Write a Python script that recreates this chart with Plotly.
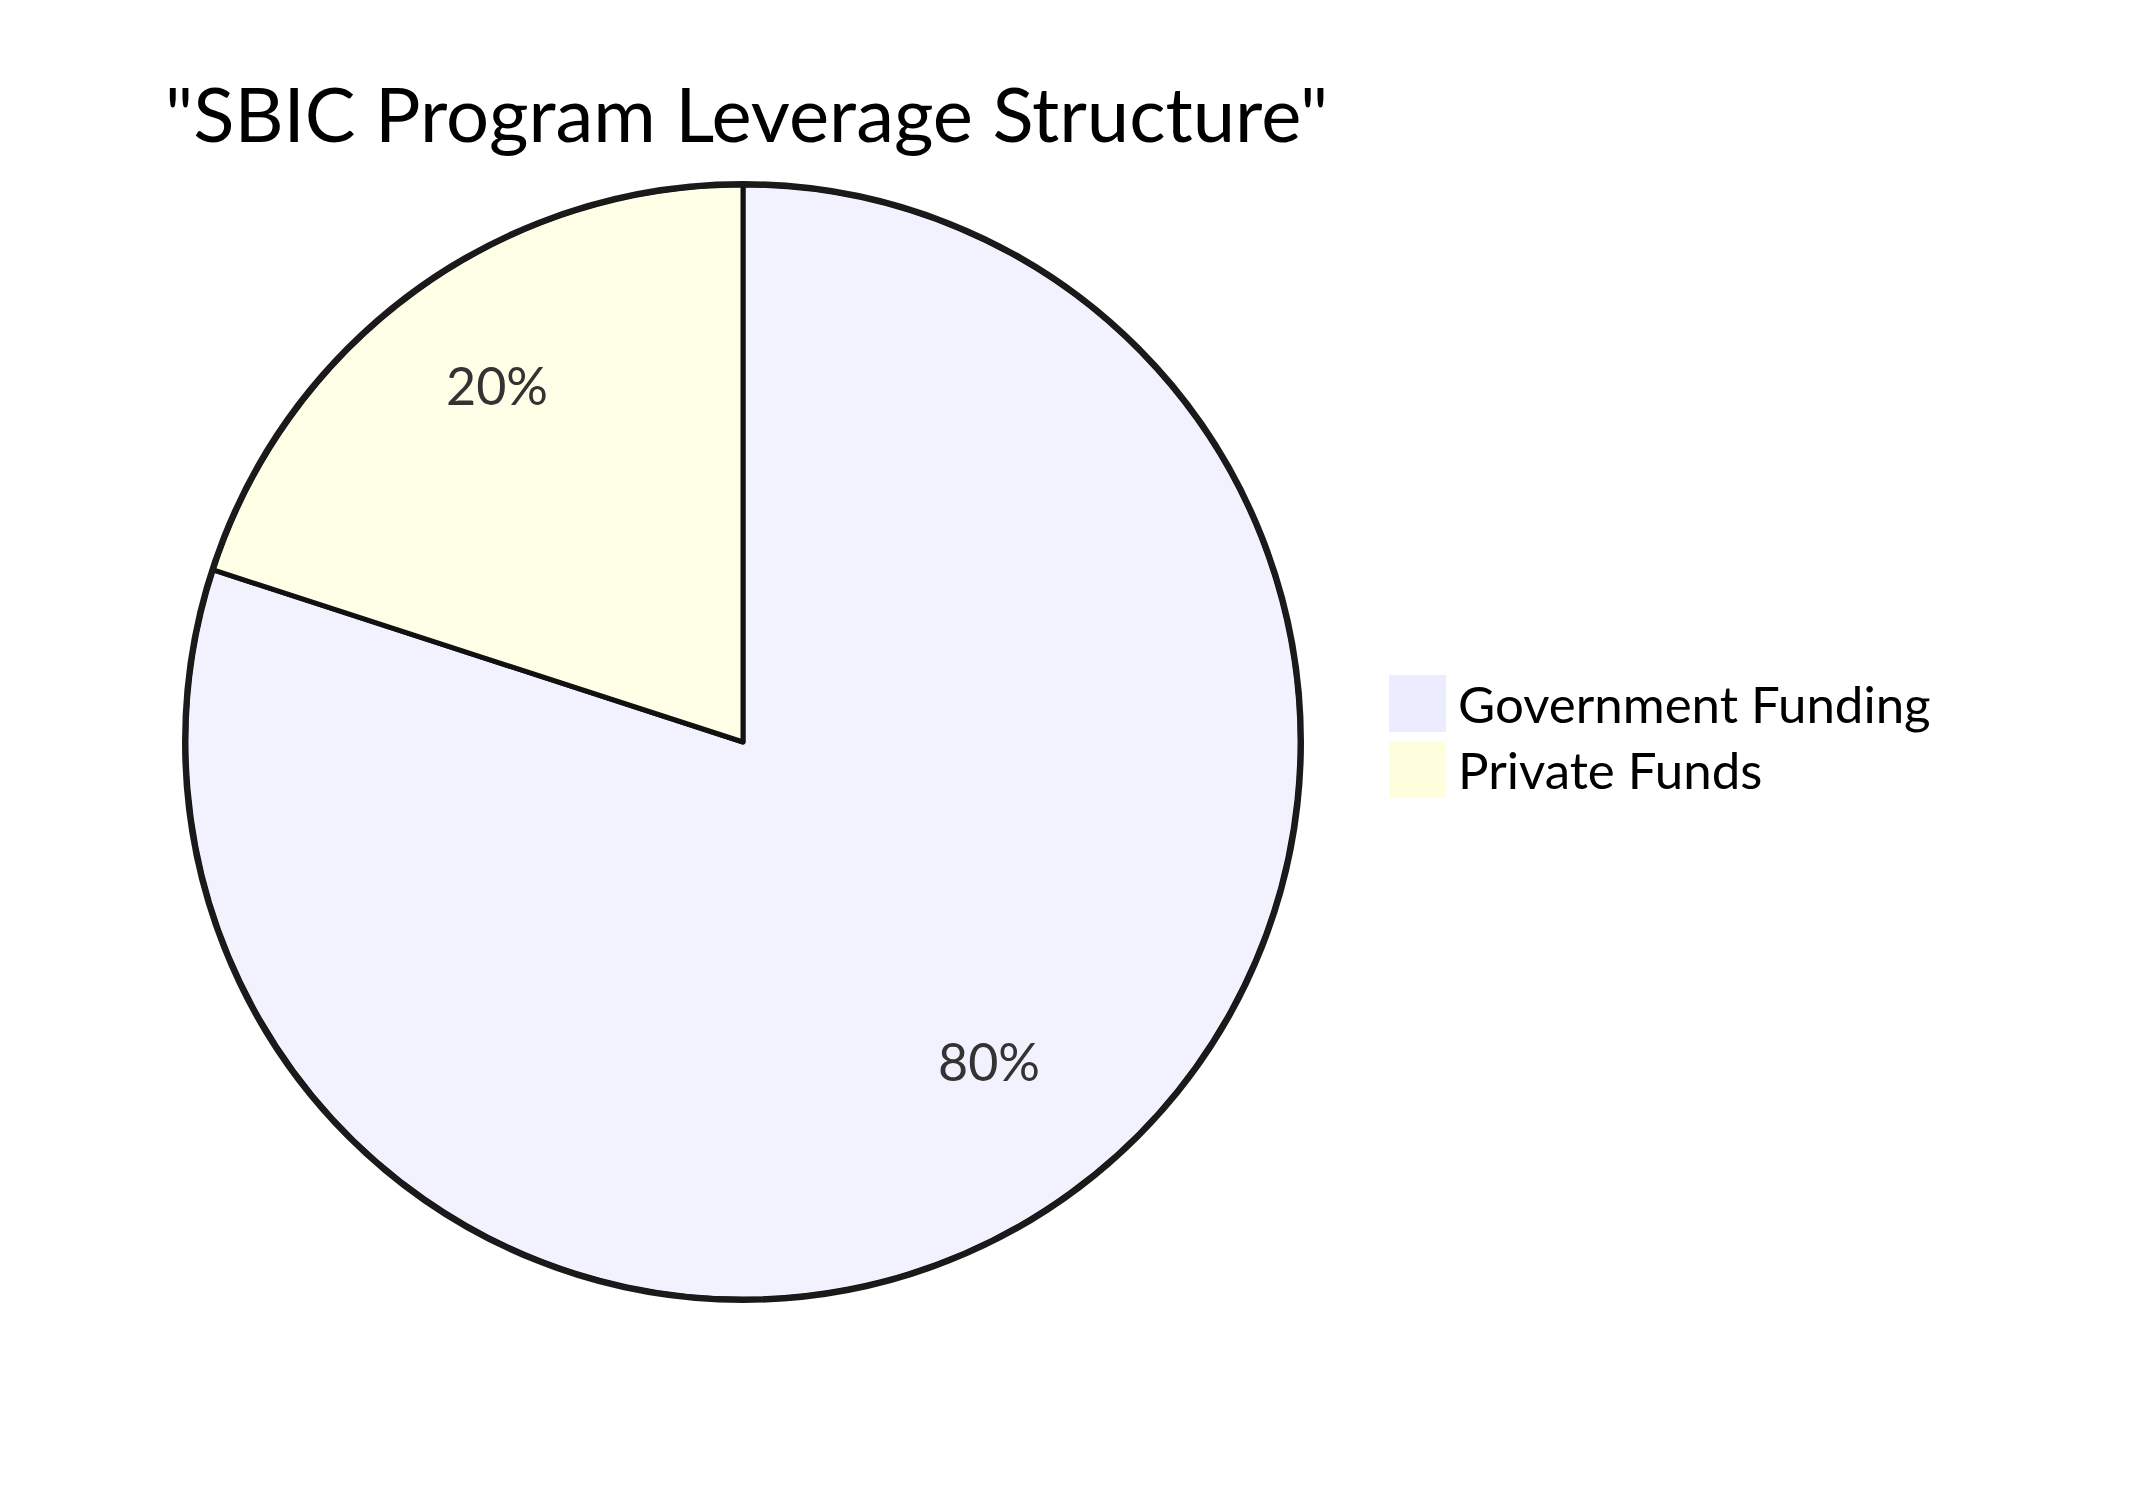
import math
import plotly.graph_objects as go

# data
labels = ["Government Funding", "Private Funds"]
values = [80, 20]
slice_colors = ["#F2F2FF", "#FFFFE8"]   # faded fill as drawn in the pie
legend_colors = ["#ECECFF", "#FFFFDE"]  # solid swatches in legend
title_text = '"SBIC Program Leverage Structure"'

W, H = 2151, 1485
FONT = "Lato, 'Trebuchet MS', Verdana, Arial, sans-serif"

# pie geometry in px (page body adds ~8px, already taken off)
cx, cy, R = 735, 734, 557

fig = go.Figure()
fig.add_trace(go.Pie(
    labels=labels,
    values=values,
    sort=False,
    direction="clockwise",
    rotation=0,
    marker=dict(colors=slice_colors, line=dict(color="#111111", width=5)),
    textinfo="none",
    domain=dict(x=[(cx - R) / W, (cx + R) / W],
                y=[1 - (cy + R) / H, 1 - (cy - R) / H]),
    showlegend=False,
    hoverinfo="label+percent",
))

# heavier outer ring, mermaid draws an extra circle around the pie
fig.add_shape(type="circle", xref="paper", yref="paper",
              x0=(cx - R - 1) / W, x1=(cx + R + 1) / W,
              y0=1 - (cy + R + 1) / H, y1=1 - (cy - R - 1) / H,
              line=dict(color="#1a1a1a", width=6), fillcolor="rgba(0,0,0,0)")

# percent labels at 3/4 radius on each slice's mid angle (like mermaid)
total = sum(values)
start = 0.0
for v in values:
    mid = (start + v / 2) / total * 2 * math.pi
    start += v
    lx = cx + 0.75 * R * math.sin(mid)
    ly = cy - 0.75 * R * math.cos(mid)
    fig.add_annotation(text=f"{round(100 * v / total)}%", xref="paper", yref="paper",
                       x=lx / W, y=1 - ly / H, xanchor="center", yanchor="middle",
                       yshift=19, showarrow=False,
                       font=dict(family=FONT, size=52, color="#333333"))

# hand made legend so the swatches can be big like the original
lx0, ly0 = 1381, 667   # top-left of first swatch, px
box, step = 57, 66
for i, (lab, col) in enumerate(zip(labels, legend_colors)):
    top = ly0 + i * step
    fig.add_shape(type="rect", xref="paper", yref="paper",
                  x0=lx0 / W, x1=(lx0 + box) / W,
                  y0=1 - (top + box) / H, y1=1 - top / H,
                  fillcolor=col, line=dict(width=0), layer="below")
    fig.add_annotation(text=lab, xref="paper", yref="paper",
                       x=(lx0 + box + 10) / W, y=1 - (top + box / 2) / H,
                       xanchor="left", yanchor="middle", showarrow=False,
                       font=dict(family=FONT, size=51, color="#000000"))

fig.update_layout(
    width=W, height=H,
    margin=dict(l=0, r=0, t=0, b=0),
    paper_bgcolor="white",
    plot_bgcolor="white",
    title=dict(text=title_text, x=157 / W, xanchor="left",
               y=1 - 107 / H, yanchor="middle",
               font=dict(family=FONT, size=76, color="#000000")),
)

fig.write_html("out.html")
